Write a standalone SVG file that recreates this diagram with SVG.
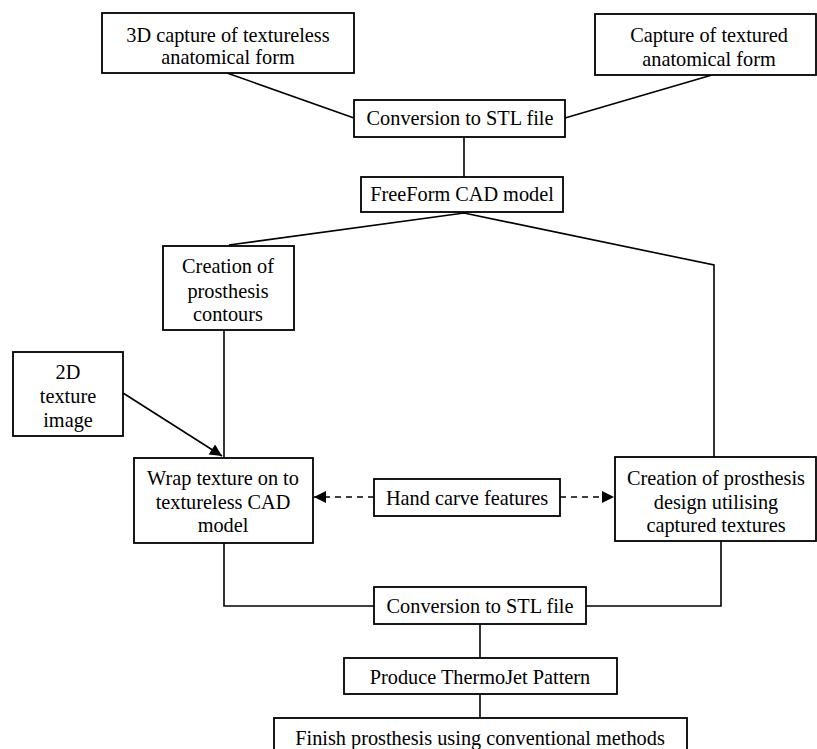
<svg xmlns="http://www.w3.org/2000/svg" width="817" height="749" viewBox="0 0 817 749">
<style>
rect{fill:#fff;stroke:#000;stroke-width:1.8}
text{font-family:"Liberation Serif","Times New Roman",serif;font-size:20.3px;fill:#000;text-anchor:middle}
.c{fill:none;stroke:#000;stroke-width:1.6}
.d{stroke-dasharray:6 5}
</style>
<defs>
<marker id="ah" viewBox="0 0 10 10" refX="10" refY="5" markerWidth="13" markerHeight="12" markerUnits="userSpaceOnUse" orient="auto">
<path d="M0,0 L10,5 L0,10 z" fill="#000"/>
</marker>
</defs>
<rect x="0" y="0" width="817" height="749" style="stroke:none;fill:#fff"/>
<g id="connectors">
<path class="c" d="M227,73 L354,118"/>
<path class="c" d="M712,75 L565,118"/>
<path class="c" d="M464,137 L464,177"/>
<path class="c" d="M229,245 L464,213 L714,265 L714,457"/>
<path class="c" d="M224,330 L224,458"/>
<path class="c" d="M123,393 L222,456" marker-end="url(#ah)"/>
<path class="c d" d="M374,497 L314,497" marker-end="url(#ah)"/>
<path class="c d" d="M560,497 L614,497" marker-end="url(#ah)"/>
<path class="c" d="M224,543 L224,606 L374,606"/>
<path class="c" d="M721,541 L721,606 L586,606"/>
<path class="c" d="M480,624 L480,658"/>
<path class="c" d="M480,694 L480,718"/>
</g>
<g id="n1"><rect x="102" y="13" width="252" height="60"/><text x="228" y="42">3D capture of textureless</text><text x="228" y="64">anatomical form</text></g>
<g id="n2"><rect x="595" y="14" width="221" height="61"/><text x="709" y="42">Capture of textured</text><text x="709" y="66">anatomical form</text></g>
<g id="n3"><rect x="354" y="100" width="211" height="37"/><text x="460" y="125">Conversion to STL file</text></g>
<g id="n4"><rect x="361" y="177" width="202" height="35"/><text x="462" y="201">FreeForm CAD model</text></g>
<g id="n5"><rect x="163" y="246" width="131" height="84"/><text x="228" y="273">Creation of</text><text x="228" y="298">prosthesis</text><text x="228" y="321">contours</text></g>
<g id="n6"><rect x="13" y="352" width="110" height="84"/><text x="68" y="379">2D</text><text x="68" y="403">texture</text><text x="68" y="427">image</text></g>
<g id="n7"><rect x="134" y="458" width="179" height="85"/><text x="223" y="485">Wrap texture on to</text><text x="223" y="509">textureless CAD</text><text x="223" y="532">model</text></g>
<g id="n8"><rect x="374" y="479" width="186" height="37"/><text x="467" y="505">Hand carve features</text></g>
<g id="n9"><rect x="615" y="457" width="201" height="84"/><text x="716" y="485">Creation of prosthesis</text><text x="716" y="509">design utilising</text><text x="716" y="532">captured textures</text></g>
<g id="n10"><rect x="374" y="587" width="212" height="37"/><text x="480" y="613">Conversion to STL file</text></g>
<g id="n11"><rect x="344" y="658" width="273" height="36"/><text x="480" y="684">Produce ThermoJet Pattern</text></g>
<g id="n12"><rect x="274" y="718" width="413" height="45"/><text x="480" y="745">Finish prosthesis using conventional methods</text></g>
</svg>
